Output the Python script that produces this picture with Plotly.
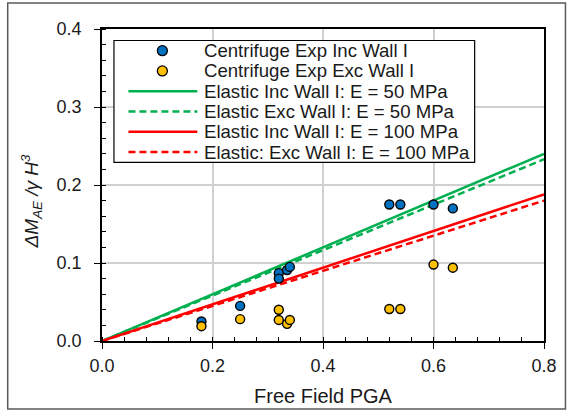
import plotly.graph_objects as go

# Centrifuge measurements: free-field PGA vs normalised seismic moment increment
pga_inc = [0.18, 0.25, 0.32, 0.32, 0.335, 0.34, 0.52, 0.54, 0.60, 0.635]
dm_inc = [0.025, 0.045, 0.087, 0.080, 0.091, 0.095, 0.175, 0.175, 0.175, 0.170]
pga_exc = [0.18, 0.25, 0.32, 0.32, 0.335, 0.34, 0.52, 0.54, 0.60, 0.635]
dm_exc = [0.019, 0.028, 0.040, 0.027, 0.022, 0.027, 0.041, 0.041, 0.098, 0.094]

# Elastic solutions (linear in PGA)
pga_line = [0.0, 0.8]
elastic_inc_50 = [0.0, 0.240]
elastic_exc_50 = [0.0, 0.233]
elastic_inc_100 = [0.0, 0.188]
elastic_exc_100 = [0.0, 0.180]

legend_labels = [
    "Centrifuge Exp Inc Wall I",
    "Centrifuge Exp Exc Wall I",
    "Elastic Inc Wall I: E = 50 MPa",
    "Elastic Exc Wall I: E = 50 MPa",
    "Elastic Inc Wall I: E = 100 MPa",
    "Elastic: Exc Wall I: E = 100 MPa",
]

x_ticks = [0.0, 0.2, 0.4, 0.6, 0.8]
y_ticks = [0.0, 0.1, 0.2, 0.3, 0.4]

BLUE = "#0070C0"
GOLD = "#FFC000"
GREEN = "#00B050"
RED = "#FF0000"
TXT = "#1a1a1a"
FONT = "Liberation Sans, Arial, sans-serif"
DASH = "7px,4px"

# page geometry (px) used to place the boxed legend and frame
W, H = 569, 412
ML, MR, MT, MB = 101.5, 24.5, 29, 70.5
PW, PH = W - ML - MR, H - MT - MB


def px(x):
    return (x - ML) / PW


def py(y):
    return 1 - (y - MT) / PH


fig = go.Figure()

line_series = [
    (elastic_inc_50, GREEN, "solid", legend_labels[2]),
    (elastic_exc_50, GREEN, DASH, legend_labels[3]),
    (elastic_inc_100, RED, "solid", legend_labels[4]),
    (elastic_exc_100, RED, DASH, legend_labels[5]),
]
for ys, col, dash, name in line_series:
    fig.add_trace(go.Scatter(
        x=pga_line, y=ys, mode="lines", name=name,
        line=dict(color=col, width=2.5, dash=dash), showlegend=False,
    ))

for xs, ys, col, name in [(pga_inc, dm_inc, BLUE, legend_labels[0]),
                          (pga_exc, dm_exc, GOLD, legend_labels[1])]:
    fig.add_trace(go.Scatter(
        x=xs, y=ys, mode="markers", name=name,
        marker=dict(color=col, size=9, line=dict(color="black", width=1.4)),
        showlegend=False,
    ))

axis_common = dict(
    showline=True, linecolor="black", linewidth=1.5, mirror=True,
    showgrid=True, gridcolor="#d0d0d0", gridwidth=1.5,
    ticks="outside", ticklen=6, tickwidth=1.3, tickcolor="black",
    tickfont=dict(family=FONT, size=18, color=TXT),
    tickformat=".1f", zeroline=False, fixedrange=True, automargin=False,
)

fig.update_xaxes(
    range=[0, 0.8], tickvals=x_ticks,
    minor=dict(dtick=0.04, ticks="inside", ticklen=4, tickwidth=1.2,
               tickcolor="black", showgrid=False),
    title=dict(text="Free Field PGA", font=dict(family=FONT, size=20, color=TXT),
               standoff=14),
    ticklabelstandoff=2,
    **axis_common,
)
fig.update_yaxes(
    range=[0, 0.4], tickvals=y_ticks,
    minor=dict(dtick=0.02, ticks="inside", ticklen=4, tickwidth=1.2,
               tickcolor="black", showgrid=False),
    ticklabelstandoff=9,
    **axis_common,
)

shapes = [
    # outer chart frame
    dict(type="rect", xref="paper", yref="paper",
         x0=px(7), x1=px(566), y0=py(409.5), y1=py(3),
         line=dict(color="#595959", width=1.5), layer="below"),
    # legend box
    dict(type="rect", xref="paper", yref="paper",
         x0=px(113.5), x1=px(475), y0=py(162.5), y1=py(40.5),
         fillcolor="white", line=dict(color="black", width=1.2), layer="above"),
]
annotations = []

row_y = [50.7 + 20.3 * i for i in range(len(legend_labels))]
marker_cols = [BLUE, GOLD]
for i, (label, yy) in enumerate(zip(legend_labels, row_y)):
    if i < 2:
        shapes.append(dict(
            type="circle", xref="paper", yref="paper",
            xsizemode="pixel", ysizemode="pixel",
            xanchor=px(162), yanchor=py(yy),
            x0=-5, x1=5, y0=-5, y1=5,
            fillcolor=marker_cols[i], line=dict(color="black", width=1.3),
            layer="above",
        ))
    else:
        _, col, dash, _ = line_series[i - 2]
        shapes.append(dict(
            type="line", xref="paper", yref="paper",
            x0=px(128), x1=px(197), y0=py(yy), y1=py(yy),
            line=dict(color=col, width=2.5, dash=dash), layer="above",
        ))
    annotations.append(dict(
        x=px(202), y=py(yy), xref="paper", yref="paper",
        xanchor="left", yanchor="middle", showarrow=False,
        text=label, font=dict(family=FONT, size=18.6, color=TXT),
    ))

# y-axis title
annotations.append(dict(
    x=px(31), y=py(202), xref="paper", yref="paper",
    xanchor="center", yanchor="middle", showarrow=False, textangle=-90,
    text="<i>ΔM<sub>AE</sub> /γ H<sup>3</sup></i>",
    font=dict(family=FONT, size=19, color=TXT),
))

fig.update_layout(
    width=W, height=H,
    margin=dict(l=ML, r=MR, t=MT, b=MB, pad=0),
    paper_bgcolor="white", plot_bgcolor="white",
    showlegend=False,
    shapes=shapes, annotations=annotations,
)

fig.write_html("out.html", config=dict(displayModeBar=False))
